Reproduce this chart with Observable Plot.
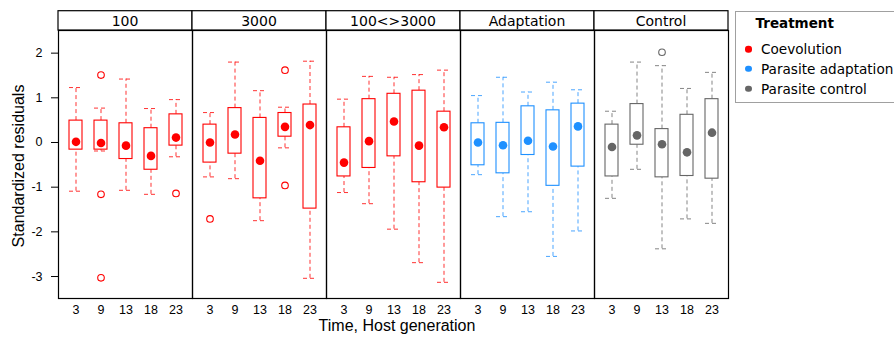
<!DOCTYPE html>
<html>
<head>
<meta charset="utf-8">
<script src="https://cdn.jsdelivr.net/npm/d3@7"></script>
<script src="https://cdn.jsdelivr.net/npm/@observablehq/plot@0.6"></script>
<style>
  html, body { margin: 0; padding: 0; background: white; }
  #wrap { position: relative; width: 894px; height: 338px; overflow: hidden; background: white; }
  #legend { position: absolute; left: 734.5px; top: 10.5px; width: 180px; height: 92px;
            border: 1px solid #a0a0a0; box-sizing: border-box; background: white;
            font-family: 'DejaVu Sans', sans-serif; font-size: 13.6px; color: #000; }
  #legend .title { position: absolute; left: 20px; top: 11px; transform: translateY(-50%); font-weight: bold; font-size: 13.5px; white-space: nowrap; }
  #legend .item { position: absolute; left: 0; white-space: nowrap; transform: translateY(-50%); }
  #legend .sw { position: absolute; left: 9.5px; width: 6.5px; height: 6.5px; border-radius: 50%; top: 50%; transform: translateY(-50%); }
  #legend .lab { position: absolute; left: 25.5px; top: 0; transform: translateY(-50%); white-space: nowrap; }
</style>
</head>
<body>
<div id="wrap"></div>
<script>
// ---- data ----
const panels = ["100", "3000", "100<>3000", "Adaptation", "Control"];
const panelGroups = ["Coevolution", "Coevolution", "Coevolution", "Parasite adaptation", "Parasite control"];
const times = ["3", "9", "13", "18", "23"];
const groups = ["Coevolution", "Parasite adaptation", "Parasite control"];
const groupColors = ["#FF0000", "#1E90FF", "#666666"];
const yTicks = [-3, -2, -1, 0, 1, 2];

// one row per panel, one value per time
const lowerWhisker = [
  [-1.09, -0.19, -1.07, -1.16, -0.32],
  [-0.77, -0.81, -1.75, -0.12, -3.04],
  [-1.12, -1.37, -1.94, -2.69, -3.13],
  [-0.72, -1.66, -1.55, -2.55, -1.98],
  [-1.25, -0.60, -2.38, -1.71, -1.81]
];
const lowerHinge = [
  [-0.16, -0.16, -0.37, -0.61, -0.07],
  [-0.45, -0.25, -1.25, 0.13, -1.48],
  [-0.76, -0.57, -0.31, -0.89, -1.01],
  [-0.51, -0.69, -0.28, -0.97, -0.54],
  [-0.76, -0.05, -0.78, -0.75, -0.81]
];
const medians = [
  [0.015, -0.01, -0.07, -0.30, 0.11],
  [0.00, 0.18, -0.41, 0.35, 0.39],
  [-0.45, 0.03, 0.47, -0.07, 0.34],
  [0.00, -0.06, 0.04, -0.09, 0.36],
  [-0.10, 0.16, -0.04, -0.22, 0.22]
];
const upperHinge = [
  [0.49, 0.49, 0.43, 0.32, 0.63],
  [0.40, 0.77, 0.55, 0.66, 0.85],
  [0.34, 0.97, 1.09, 1.16, 0.69],
  [0.43, 0.44, 0.81, 0.72, 0.87],
  [0.40, 0.86, 0.30, 0.62, 0.97]
];
const upperWhisker = [
  [1.23, 0.77, 1.42, 0.76, 0.96],
  [0.67, 1.80, 1.16, 0.79, 1.82],
  [0.97, 1.48, 1.46, 1.52, 1.62],
  [1.05, 1.46, 1.13, 1.35, 1.18],
  [0.70, 1.80, 1.72, 1.21, 1.57]
];
const outlierPanel = ["100", "100", "100", "100", "3000", "3000", "3000", "Control"];
const outlierTime  = ["9", "9", "9", "23", "3", "18", "18", "13"];
const outlierValue = [1.51, -1.16, -3.03, -1.14, -1.71, 1.62, -0.96, 2.02];

// ---- tables ----
const rows = panels.flatMap((p, i) => times.map((t, j) => ({
  panel: p, group: panelGroups[i], time: t,
  lo: lowerWhisker[i][j], q1: lowerHinge[i][j], med: medians[i][j],
  q3: upperHinge[i][j], hi: upperWhisker[i][j]
})));
const outliers = outlierValue.map((v, k) => ({
  panel: outlierPanel[k], time: outlierTime[k], value: v,
  group: panelGroups[panels.indexOf(outlierPanel[k])]
}));

const dash = "4,3";
const plot = Plot.plot({
  width: 894, height: 338,
  marginLeft: 56, marginRight: 164, marginTop: 30, marginBottom: 40,
  style: { fontFamily: "'Liberation Sans', Arial, sans-serif", fontSize: "12.5px", color: "#000", background: "white", overflow: "visible" },
  fx: { domain: panels, padding: 0, axis: null, label: null },
  x: { domain: times, type: "band", paddingInner: 0.5, paddingOuter: 0.33, tickSize: 0, tickPadding: 7, label: null },
  y: { domain: [-3.492, 2.507], ticks: yTicks, tickSize: 7, tickPadding: 9, tickFormat: d => String(d), label: null },
  color: { domain: groups, range: groupColors },
  marks: [
    Plot.ruleX(rows, { fx: "panel", x: "time", y1: "lo", y2: "q1", stroke: "group", strokeDasharray: dash, strokeOpacity: 0.8 }),
    Plot.ruleX(rows, { fx: "panel", x: "time", y1: "q3", y2: "hi", stroke: "group", strokeDasharray: dash, strokeOpacity: 0.8 }),
    Plot.tickY(rows, { fx: "panel", x: "time", y: "lo", stroke: "group", strokeDasharray: dash, strokeOpacity: 0.8 }),
    Plot.tickY(rows, { fx: "panel", x: "time", y: "hi", stroke: "group", strokeDasharray: dash, strokeOpacity: 0.8 }),
    Plot.barY(rows, { fx: "panel", x: "time", y1: "q1", y2: "q3", fill: "white", stroke: "group", strokeWidth: 1.1 }),
    Plot.dot(rows, { fx: "panel", x: "time", y: "med", r: 4.3, fill: "group", stroke: null }),
    Plot.dot(outliers, { fx: "panel", x: "time", y: "value", r: 3.3, fill: "white", stroke: "group", strokeWidth: 1.1 }),
    Plot.frame({ stroke: "#000", strokeWidth: 1.2 })
  ]
});

document.getElementById("wrap").appendChild(plot);

// ---- strips and axis titles ----
const svg = d3.select(plot);
const fx = plot.scale("fx");
const ys = plot.scale("y");
const plotTop = Math.min(...ys.range);
const plotBottom = Math.max(...ys.range);
const stripH = 19.3;
const g = svg.append("g");
for (const p of panels) {
  const x0 = fx.apply(p);
  const w = fx.bandwidth;
  g.append("rect").attr("x", x0).attr("y", plotTop - stripH).attr("width", w).attr("height", stripH)
    .attr("fill", "white").attr("stroke", "#000").attr("stroke-width", 1.2);
  g.append("text").attr("x", x0 + w / 2).attr("y", plotTop - stripH / 2 + 1)
    .attr("text-anchor", "middle").attr("dominant-baseline", "central")
    .style("font-family", "'DejaVu Sans', sans-serif").style("font-size", "14px").attr("fill", "#000").text(p);
}
const left = fx.apply(panels[0]);
const right = fx.apply(panels[panels.length - 1]) + fx.bandwidth;
svg.append("text").attr("x", (left + right) / 2 + 4).attr("y", 331)
  .attr("text-anchor", "middle").style("font-size", "16px").attr("fill", "#000").text("Time, Host generation");
svg.append("text").attr("transform", `translate(24,${(plotTop + plotBottom) / 2 + 2}) rotate(-90)`)
  .attr("text-anchor", "middle").style("font-size", "16px").attr("fill", "#000").text("Standardized residuals");

// ---- legend ----
const color = plot.scale("color");
const legend = document.createElement("div");
legend.id = "legend";
let html = `<div class="title">Treatment</div>`;
const itemY = [37.8, 57.2, 77.2];
color.domain.forEach((d, i) => {
  html += `<div class="item" style="top:${itemY[i]}px"><span class="sw" style="background:${color.range[i]};top:0"></span><span class="lab">${d}</span></div>`;
});
legend.innerHTML = html;
document.getElementById("wrap").appendChild(legend);
</script>
</body>
</html>
